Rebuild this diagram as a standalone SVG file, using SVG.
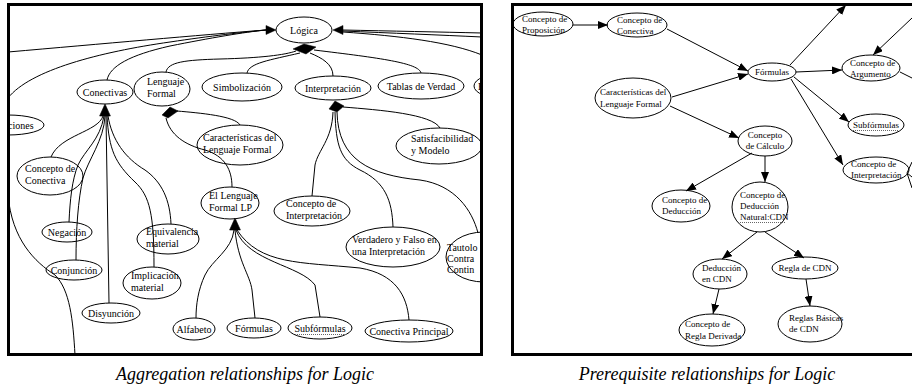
<svg xmlns="http://www.w3.org/2000/svg" xmlns:xlink="http://www.w3.org/1999/xlink" width="912" height="388" viewBox="0 0 912 388">
<style>
text{font-family:"Liberation Serif","Times New Roman",serif;fill:#000}
.n ellipse{fill:none;stroke:#000;stroke-width:1}
.n text{font-size:10px}
.rp .n text{font-size:9px}
.m{text-anchor:middle}
.e path{fill:none;stroke:#000;stroke-width:1}
.e .ah{fill:#000;stroke:#000;stroke-width:0.5}
.frame{fill:none;stroke:#000;stroke-width:3}
.ul{stroke:#666;stroke-width:1;stroke-dasharray:1 1}
.cap{font-style:italic;font-size:18px;text-anchor:middle}
</style>
<defs>
<marker id="arr" viewBox="0 0 10 8" refX="10" refY="4" markerWidth="10" markerHeight="8" markerUnits="userSpaceOnUse" orient="auto"><path d="M0,0 L10,4 L0,8 Z" fill="#000"/></marker>
<path id="tri" d="M0,0 L-10,-4.5 L-10,4.5 Z"/>
<clipPath id="cl"><rect x="8" y="4" width="474" height="351"/></clipPath>
<clipPath id="cr"><rect x="512" y="4" width="400" height="351"/></clipPath>
</defs>

<g id="left-panel" clip-path="url(#cl)">
<g id="left-connectors" class="e">
<path d="M8,52 C100,44 200,35 266,30"/>
<path d="M8,98 C30,70 100,52 170,42 C210,36 245,32 266,30"/>
<path d="M107,80 C110,66 130,55 170,46 C210,38 245,32 266,30"/>
<path d="M343,30 C390,31 440,32 482,33"/>
<path d="M343,31 C390,33 440,35 482,37"/>
<path d="M343,32 C400,36 450,42 482,55"/>
<path d="M166,72 C168,62 185,60 220,59 C260,58 285,55 296,51"/>
<path d="M247,73 C249,63 270,60 300,53"/>
<path d="M333,76 C333,64 322,58 310,53"/>
<path d="M421,73 C419,63 380,58 314,50"/>
<path d="M103,116 C98,132 60,135 51,157"/>
<path d="M104,116 C100,140 85,150 78,165 C72,180 70,200 69,222"/>
<path d="M105,116 C104,140 88,160 83,178 C78,200 76,230 76,260"/>
<path d="M106,116 L109,303"/>
<path d="M107,116 C109,150 115,163 135,182 C150,196 154,215 154,267"/>
<path d="M108,116 C112,140 125,158 145,170 C162,182 170,200 171,224"/>
<path d="M177,111 C200,113 235,116 240,125"/>
<path d="M166,118 C170,135 185,145 205,150 C225,156 232,170 232,187"/>
<path d="M343,107 C380,110 432,114 440,128"/>
<path d="M333,112 C332,140 318,150 315,165 L312,196"/>
<path d="M335,112 C336,145 340,160 360,170 C385,182 392,200 393,227"/>
<path d="M337,112 C338,160 370,175 420,180 C455,185 472,210 478,233"/>
<path d="M234,230 C232,250 212,260 205,275 C198,290 196,305 196,318"/>
<path d="M235,230 C238,262 250,275 252,290 L255,318"/>
<path d="M236,230 C248,262 300,265 315,285 L320,317"/>
<path d="M237,230 C260,265 300,262 360,268 C395,274 407,295 409,320"/>
<path d="M8,195 C12,240 35,262 55,275 C70,290 73,320 75,355"/>
<use href="#tri" class="ah" transform="translate(276,30)"/>
<use href="#tri" class="ah" transform="translate(333,30) rotate(180)"/>
<use href="#tri" class="ah" transform="translate(105,104) rotate(-90) scale(1.2)"/>
<use href="#tri" class="ah" transform="translate(235,218) rotate(-90) scale(1.2)"/>
<path class="ah" d="M293,49 L304,44 L316,47 L306,54 Z"/>
<path class="ah" d="M162,115 L170,107 L178,111 L168,118 Z"/>
<path class="ah" d="M329,109 L335,101 L344,106 L337,112 Z"/>
</g>
<g id="n-logica" class="n"><ellipse cx="304" cy="30" rx="28" ry="13"/><text class="m" x="304" y="34">Lógica</text></g>
<g id="n-conectivas" class="n"><ellipse cx="105" cy="92" rx="28" ry="12"/><text class="m" x="105" y="95.5">Conectivas</text></g>
<g id="n-lenguaje-formal" class="n"><ellipse cx="162" cy="89" rx="28" ry="17"/><text x="147" y="85">Lenguaje</text><text x="147" y="97">Formal</text></g>
<g id="n-simbolizacion" class="n"><ellipse cx="242" cy="87" rx="40" ry="14"/><text class="m" x="242" y="91">Simbolización</text></g>
<g id="n-interpretacion" class="n"><ellipse cx="333" cy="88" rx="38" ry="12"/><text class="m" x="333" y="91.5">Interpretación</text></g>
<g id="n-tablas" class="n"><ellipse cx="421" cy="86" rx="43" ry="13"/><text class="m" x="421" y="90">Tablas de Verdad</text></g>
<g id="n-e" class="n"><ellipse cx="506" cy="86" rx="32" ry="13"/><text x="478" y="90">E</text></g>
<g id="n-ciones" class="n"><ellipse cx="8" cy="125" rx="36" ry="10"/><text x="8" y="128.5">ciones</text></g>
<g id="n-caracteristicas" class="n"><ellipse cx="240" cy="145" rx="43" ry="20"/><text x="203" y="141">Características del</text><text x="203" y="153">Lenguaje Formal</text></g>
<g id="n-el-lenguaje" class="n"><ellipse cx="230" cy="203" rx="29" ry="16"/><text x="209" y="199">El Lenguaje</text><text x="209" y="211">Formal LP</text></g>
<g id="n-satisfacibilidad" class="n"><ellipse cx="439" cy="146" rx="43" ry="18"/><text x="411" y="142">Satisfacibilidad</text><text x="411" y="154">y Modelo</text></g>
<g id="n-concepto-interpretacion" class="n"><ellipse cx="312" cy="211" rx="38" ry="15"/><text x="286" y="207">Concepto de</text><text x="286" y="219">Interpretación</text></g>
<g id="n-verdadero" class="n"><ellipse cx="393" cy="247" rx="47" ry="20"/><text x="352" y="243">Verdadero y Falso en</text><text x="352" y="255">una Interpretación</text></g>
<g id="n-tautologias" class="n"><ellipse cx="484" cy="257" rx="38" ry="25"/><text x="447" y="251">Tautolo</text><text x="447" y="262">Contra</text><text x="447" y="273">Contin</text></g>
<g id="n-concepto-conectiva" class="n"><ellipse cx="50" cy="176" rx="33" ry="19"/><text x="25" y="172">Concepto de</text><text x="25" y="184">Conectiva</text></g>
<g id="n-negacion" class="n"><ellipse cx="67" cy="232" rx="25" ry="10"/><text class="m" x="67" y="235.5">Negación</text></g>
<g id="n-conjuncion" class="n"><ellipse cx="74" cy="270" rx="28" ry="10"/><text class="m" x="74" y="273.5">Conjunción</text></g>
<g id="n-equivalencia" class="n"><ellipse cx="168" cy="239" rx="31" ry="15"/><text x="146" y="235">Equivalencia</text><text x="146" y="247">material</text></g>
<g id="n-implicacion" class="n"><ellipse cx="152" cy="283" rx="29" ry="16"/><text x="131" y="279">Implicación</text><text x="131" y="291">material</text></g>
<g id="n-disyuncion" class="n"><ellipse cx="111" cy="313" rx="29" ry="10"/><text class="m" x="111" y="316.5">Disyunción</text></g>
<g id="n-alfabeto" class="n"><ellipse cx="194" cy="329" rx="21" ry="11"/><text class="m" x="194" y="332.5">Alfabeto</text></g>
<g id="n-formulas" class="n"><ellipse cx="254" cy="328" rx="27" ry="10"/><text class="m" x="254" y="331.5">Fórmulas</text></g>
<g id="n-subformulas" class="n"><ellipse cx="320" cy="328" rx="32" ry="11"/><text class="m" x="320" y="331.5">Subfórmulas</text><line class="ul" x1="295" y1="334.5" x2="346" y2="334.5"/></g>
<g id="n-conectiva-principal" class="n"><ellipse cx="409" cy="331" rx="44" ry="11"/><text class="m" x="409" y="334.5">Conectiva Principal</text></g>
</g>

<g id="right-panel" class="rp" clip-path="url(#cr)">
<g id="right-connectors" class="e">
<path d="M573,25 L608,25" marker-end="url(#arr)"/>
<path d="M667,29 L748,71" marker-end="url(#arr)"/>
<path d="M672,97 L748,74" marker-end="url(#arr)"/>
<path d="M670,106 L739,138" marker-end="url(#arr)"/>
<path d="M790,65 L846,5" marker-end="url(#arr)"/>
<path d="M796,72 L842,70" marker-end="url(#arr)"/>
<path d="M794,77 L849,122" marker-end="url(#arr)"/>
<path d="M791,79 L843,165" marker-end="url(#arr)"/>
<path d="M912,18 L873,55" marker-end="url(#arr)"/>
<path d="M900,72 L912,78"/>
<path d="M752,153 L686,191" marker-end="url(#arr)"/>
<path d="M765,156 L765,182" marker-end="url(#arr)"/>
<path d="M757,232 L722,259" marker-end="url(#arr)"/>
<path d="M765,232 L804,258" marker-end="url(#arr)"/>
<path d="M719,289 L713,314" marker-end="url(#arr)"/>
<path d="M806,279 L810,306" marker-end="url(#arr)"/>
<path d="M912,162 L907,173 L912,177 M907,173 L912,188"/>
</g>
<g id="r-proposicion" class="n"><ellipse cx="543" cy="24" rx="30" ry="12"/><text x="522" y="22">Concepto de</text><text x="522" y="33">Proposición</text></g>
<g id="r-conectiva" class="n"><ellipse cx="637" cy="25" rx="30" ry="12"/><text x="617" y="23">Concepto de</text><text x="617" y="34">Conectiva</text></g>
<g id="r-caracteristicas" class="n"><ellipse cx="633" cy="98" rx="38" ry="20"/><text x="600" y="95">Características del</text><text x="600" y="107">Lenguaje Formal</text></g>
<g id="r-formulas" class="n"><ellipse cx="772" cy="72" rx="24" ry="9"/><text class="m" x="772" y="75">Fórmulas</text></g>
<g id="r-calculo" class="n"><ellipse cx="765" cy="141" rx="27" ry="15"/><text class="m" x="765" y="138">Concepto</text><text class="m" x="765" y="149">de Cálculo</text></g>
<g id="r-argumento" class="n"><ellipse cx="871" cy="68" rx="29" ry="13"/><text x="850" y="66">Concepto de</text><text x="850" y="77">Argumento</text></g>
<g id="r-subformulas" class="n"><ellipse cx="876" cy="125" rx="28" ry="11"/><text class="m" x="876" y="128">Subfórmulas</text><line class="ul" x1="853" y1="130.5" x2="899" y2="130.5"/></g>
<g id="r-interpretacion" class="n"><ellipse cx="876" cy="170" rx="33" ry="13"/><text x="851" y="167">Concepto de</text><text x="851" y="178">Interpretación</text></g>
<g id="r-deduccion" class="n"><ellipse cx="681" cy="206" rx="29" ry="16"/><text x="662" y="203">Concepto de</text><text x="662" y="214">Deducción</text></g>
<g id="r-deduccion-natural" class="n"><ellipse cx="760" cy="207" rx="28" ry="25"/><text x="740" y="198">Concepto de</text><text x="740" y="209">Deducción</text><text x="740" y="220">Natural:CDN</text><line class="ul" x1="740" y1="222.5" x2="786" y2="222.5"/></g>
<g id="r-deduccion-cdn" class="n"><ellipse cx="720" cy="274" rx="27" ry="15"/><text x="702" y="271">Deducción</text><text x="702" y="282">en CDN</text></g>
<g id="r-regla-cdn" class="n"><ellipse cx="805" cy="268" rx="33" ry="11"/><text class="m" x="805" y="271">Regla de CDN</text></g>
<g id="r-regla-derivada" class="n"><ellipse cx="712" cy="330" rx="33" ry="16"/><text x="685" y="327">Concepto de</text><text x="685" y="339">Regla Derivada</text></g>
<g id="r-reglas-basicas" class="n"><ellipse cx="810" cy="324" rx="32" ry="18"/><text x="789" y="321">Reglas Básicas</text><text x="789" y="332">de CDN</text></g>
</g>

<rect class="frame" x="8.5" y="4.5" width="473" height="350"/>
<rect class="frame" x="512.5" y="4.5" width="410" height="350"/>
<text class="cap" x="245" y="380">Aggregation relationships for Logic</text>
<text class="cap" x="707" y="380">Prerequisite relationships for Logic</text>
</svg>
